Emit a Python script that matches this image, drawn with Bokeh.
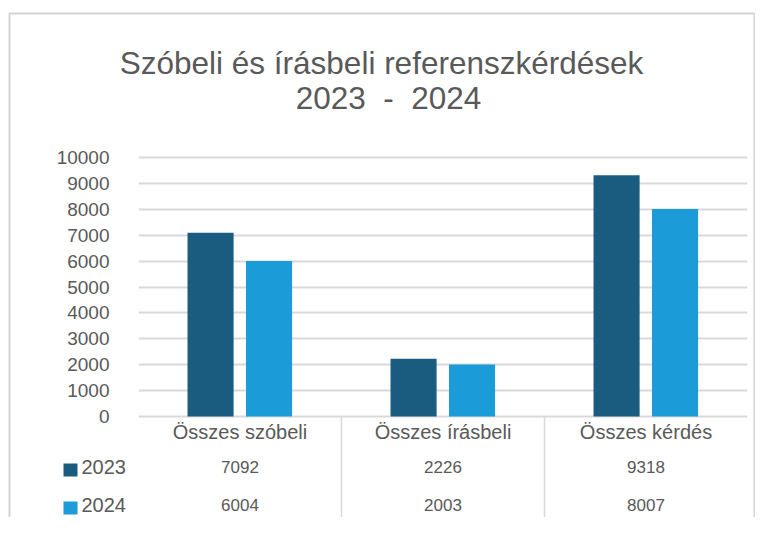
from bokeh.plotting import figure
from bokeh.models import ColumnDataSource, FactorRange, Range1d, FixedTicker, NumeralTickFormatter
from bokeh.transform import dodge
from bokeh.embed import file_html
from bokeh.resources import INLINE
from bokeh.core.properties import value

# ---------------- data ----------------
title_lines = ["Szóbeli és írásbeli referenszkérdések", "2023\u00a0\u00a0-\u00a0\u00a02024"]
categories = ["Összes szóbeli", "Összes írásbeli", "Összes kérdés"]
series_names = ["2023", "2024"]
values_2023 = [7092, 2226, 9318]
values_2024 = [6004, 2003, 8007]
y_ticks = [0, 1000, 2000, 3000, 4000, 5000, 6000, 7000, 8000, 9000, 10000]

# ---------------- style ----------------
DARK = "#1a5c80"
LIGHT = "#1b9bd7"
TEXT = "#595959"
GRID = "#d9d9d9"
FONT = "Liberation Sans"
series_colors = [DARK, LIGHT]

W, H = 755, 517
# canvas geometry helpers (canvas px -> data units)
ZERO_Y = 416.0          # canvas y of value 0
PX_PER_1000 = 25.9      # canvas px per 1000
FRAME_LEFT = 138.0      # canvas x of frame left
FRAME_RIGHT = 747.0
FRAME_TOP = 14.0
CAT_PX = (FRAME_RIGHT - FRAME_LEFT) / 3.0


def yd(cy):
    return (ZERO_Y - cy) / PX_PER_1000 * 1000.0


def xd(cx):
    return (cx - FRAME_LEFT) / CAT_PX


p = figure(
    width=W, height=H,
    x_range=FactorRange(*categories, range_padding=0),
    y_range=Range1d(yd(H), yd(FRAME_TOP)),
    x_axis_location=None,
    output_backend="svg", toolbar_location=None,
    min_border_left=int(FRAME_LEFT), min_border_right=int(W - FRAME_RIGHT),
    min_border_top=int(FRAME_TOP), min_border_bottom=0,
)
p.outline_line_color = None
p.background_fill_color = "white"
p.border_fill_color = "white"

# y axis & grid
p.yaxis.ticker = FixedTicker(ticks=y_ticks)
p.yaxis.formatter = NumeralTickFormatter(format="0")
p.yaxis.axis_line_color = None
p.yaxis.major_tick_line_color = None
p.yaxis.minor_tick_line_color = None
p.yaxis.major_label_standoff = 23
p.yaxis.major_label_text_font = FONT
p.yaxis.major_label_text_font_size = "19px"
p.yaxis.major_label_text_color = TEXT
p.xgrid.visible = False
p.ygrid.ticker = FixedTicker(ticks=y_ticks)
p.ygrid.grid_line_color = GRID
p.ygrid.grid_line_width = 2

# bars
src = ColumnDataSource(dict(cat=categories, y2023=values_2023, y2024=values_2024))
p.vbar(x=dodge("cat", -0.145, range=p.x_range), top="y2023", width=0.227,
       source=src, fill_color=DARK, line_color=None)
p.vbar(x=dodge("cat", 0.143, range=p.x_range), top="y2024", width=0.227,
       source=src, fill_color=LIGHT, line_color=None)

# table separators
p.segment(x0=[1.0, 2.0], y0=[0, 0], x1=[1.0, 2.0], y1=[yd(528), yd(528)],
          line_color=GRID, line_width=1.5)

# category labels
p.text(x=categories, y=[yd(431)] * len(categories), text=categories,
       text_font=value(FONT), text_font_size="20px", text_color=TEXT,
       text_align="center", text_baseline="middle")

# table rows
row_ys = [466, 504]
for vals, ry in zip([values_2023, values_2024], row_ys):
    p.text(x=categories, y=[yd(ry)] * len(categories), text=[str(v) for v in vals],
           text_font=value(FONT), text_font_size="17px", text_color=TEXT,
           text_align="center", text_baseline="middle")

# legend keys in the table
for name, color, ry in zip(series_names, series_colors, row_ys):
    p.quad(left=[xd(63)], right=[xd(77)], top=[yd(ry - 3)], bottom=[yd(ry + 10)],
           fill_color=color, line_color=None, level="overlay")
    p.text(x=[xd(81)], y=[yd(ry)], text=[name], text_font=value(FONT), text_font_size="20px",
           text_color=TEXT, text_align="left", text_baseline="middle", level="overlay")

# title
p.text(x=[xd(381), xd(388)], y=[yd(62), yd(97)], text=title_lines,
       text_font=value(FONT), text_font_size="31.5px", text_color=TEXT,
       text_align="center", text_baseline="middle", level="overlay")

# outer border
p.quad(left=[xd(9)], right=[xd(754)], top=[yd(13)], bottom=[yd(560)],
       fill_color=None, line_color="#d4d4d4", line_width=2, level="overlay")

open("out.html", "w").write(file_html(p, INLINE))
